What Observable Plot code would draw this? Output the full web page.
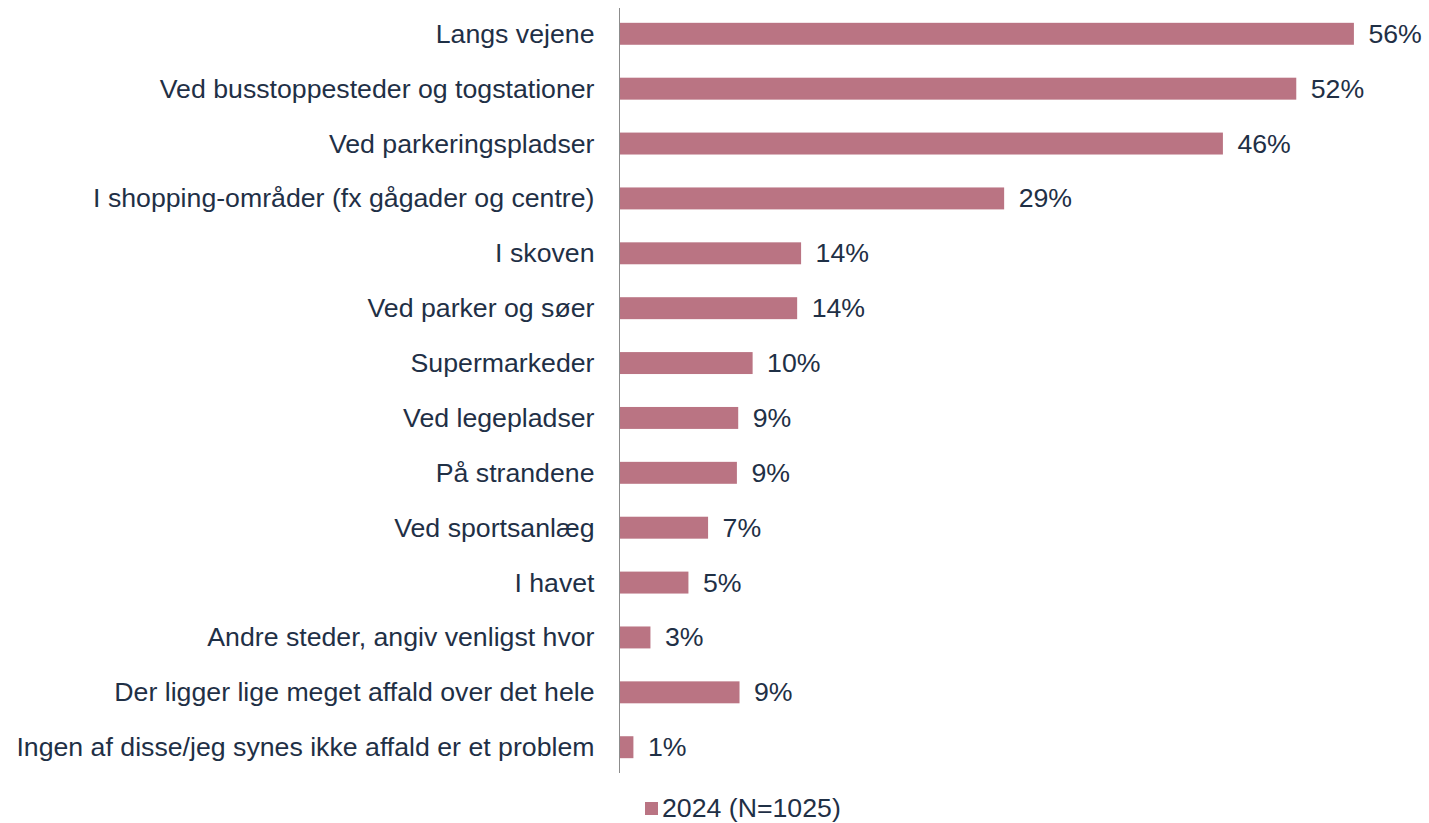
<!DOCTYPE html>
<html>
<head>
<meta charset="utf-8">
<script src="https://cdn.jsdelivr.net/npm/d3@7"></script>
<script src="https://cdn.jsdelivr.net/npm/@observablehq/plot@0.6"></script>
<style>
  html, body { margin: 0; padding: 0; background: #fff; }
  body { font-family: "Liberation Sans", Arial, sans-serif; color: #1F3046; width: 1429px; }
  #legend { position: relative; height: 43px; font-size: 26.7px; line-height: 1; }
  #legend .item { position: absolute; left: 645px; top: 15px; display: flex; align-items: center; }
  #legend .sw { width: 13px; height: 13px; background: #BA7483; margin-right: 4px; }
</style>
</head>
<body>
<div id="chart"></div>
<div id="legend"><div class="item"><span class="sw"></span><span>2024 (N=1025)</span></div></div>
<script>
const categories = [
  "Langs vejene",
  "Ved busstoppesteder og togstationer",
  "Ved parkeringspladser",
  "I shopping-områder (fx gågader og centre)",
  "I skoven",
  "Ved parker og søer",
  "Supermarkeder",
  "Ved legepladser",
  "På strandene",
  "Ved sportsanlæg",
  "I havet",
  "Andre steder, angiv venligst hvor",
  "Der ligger lige meget affald over det hele",
  "Ingen af disse/jeg synes ikke affald er et problem"
];
const values = [56.1, 51.7, 46.1, 29.4, 13.9, 13.6, 10.2, 9.1, 9.0, 6.8, 5.3, 2.4, 9.2, 1.1];
const labels = ["56%", "52%", "46%", "29%", "14%", "14%", "10%", "9%", "9%", "7%", "5%", "3%", "9%", "1%"];
const seriesName = "2024 (N=1025)";

const data = categories.map((c, i) => ({category: c, value: values[i], label: labels[i]}));

const chart = Plot.plot({
  width: 1429,
  height: 780,
  marginLeft: 619,
  marginRight: 24,
  marginTop: 8,
  marginBottom: 7,
  style: {fontFamily: "'Liberation Sans', Arial, sans-serif", fontSize: "26.7px", color: "#1F3046", background: "#fff"},
  x: {domain: [0, 60], axis: null},
  y: {domain: categories, paddingInner: 0.6, paddingOuter: 0.27, round: false, label: null},
  marks: [
    Plot.barX(data, {x: "value", y: "category", fill: "#BA7483"}),
    Plot.text(data, {x: "value", y: "category", text: "label", textAnchor: "start", dx: 14, fontSize: 26.7, fill: "#1F3046"}),
    Plot.ruleX([0], {stroke: "#8C8C8C", strokeWidth: 1}),
    Plot.axisY({tickSize: 0, tickPadding: 25, fontSize: 26.7, fill: "#1F3046", label: null})
  ]
});
document.getElementById("chart").appendChild(chart);
document.querySelector("#legend .item span:last-child").textContent = seriesName;
</script>
</body>
</html>
